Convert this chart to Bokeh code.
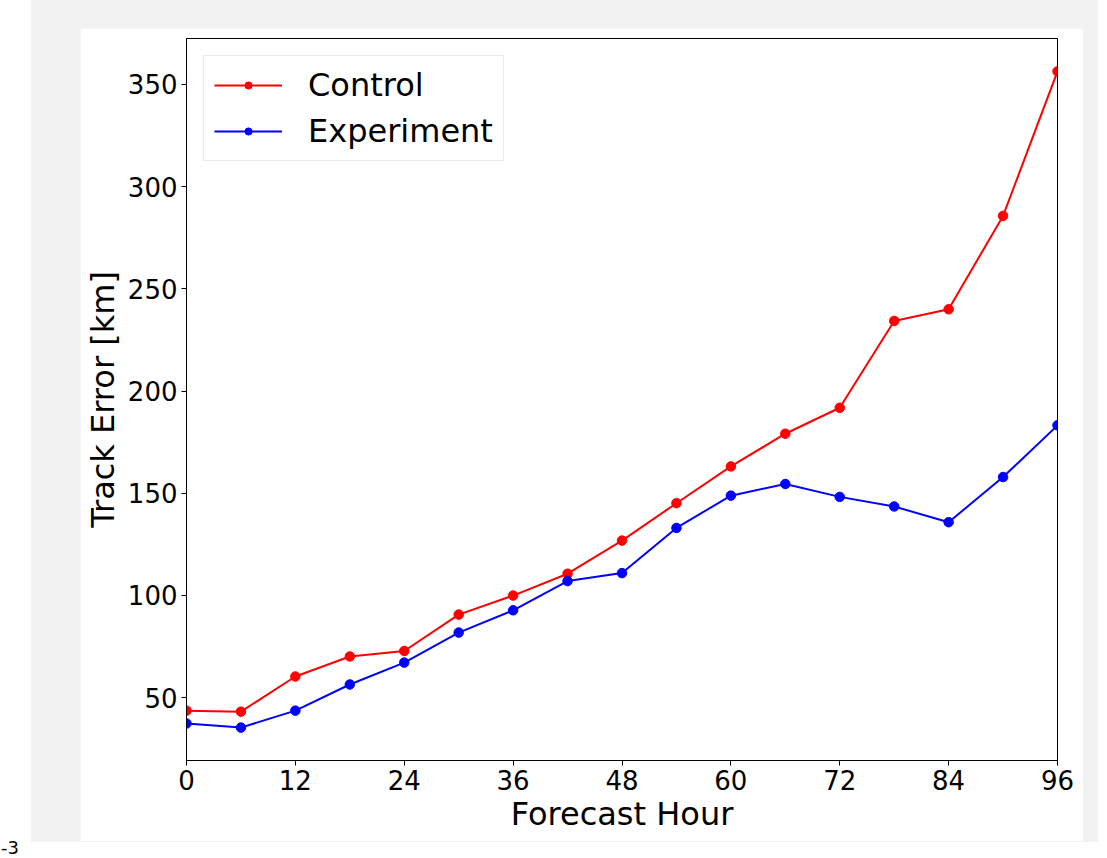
from bokeh.plotting import figure
from bokeh.models import Range1d, FixedTicker, Legend, LegendItem, Div
from bokeh.layouts import row, column
from bokeh.embed import file_html
from bokeh.resources import INLINE

hours = [0, 6, 12, 18, 24, 30, 36, 42, 48, 54, 60, 66, 72, 78, 84, 90, 96]
control = [43.6, 43.1, 60.3, 70.1, 72.8, 90.6, 99.9, 110.6, 126.8, 145.1, 163.1,
           179.1, 191.8, 234.3, 240.0, 285.7, 356.4]
experiment = [37.3, 35.3, 43.6, 56.4, 67.1, 81.8, 92.7, 107.0, 110.9, 133.0, 148.8,
              154.5, 148.2, 143.5, 135.8, 157.9, 183.2]
x_ticks = [0, 12, 24, 36, 48, 60, 72, 84, 96]
y_ticks = [50, 100, 150, 200, 250, 300, 350]

FONT = "DejaVu Sans"

p = figure(width=1003, height=813,
           x_range=Range1d(0, 96), y_range=Range1d(19.2, 372.5),
           output_backend="svg", toolbar_location=None,
           min_border_left=105, min_border_right=26,
           min_border_top=10, min_border_bottom=81)
p.margin = (28, 15, 1, 49)
p.background_fill_color = "white"
p.border_fill_color = "white"
p.outline_line_color = "black"
p.outline_line_width = 1
p.xgrid.visible = False
p.ygrid.visible = False

for ax in (p.xaxis[0], p.yaxis[0]):
    ax.axis_line_color = "black"
    ax.major_tick_line_color = "black"
    ax.major_tick_out = 5
    ax.major_tick_in = 0
    ax.minor_tick_line_color = None
    ax.major_label_text_font = FONT
    ax.major_label_text_font_size = "26px"
    ax.major_label_text_color = "black"
    ax.axis_label_text_font = FONT
    ax.axis_label_text_font_size = "32px"
    ax.axis_label_text_font_style = "normal"
    ax.axis_label_text_color = "black"
    ax.major_label_standoff = 4

p.xaxis.ticker = FixedTicker(ticks=x_ticks)
p.yaxis.ticker = FixedTicker(ticks=y_ticks)
p.xaxis.axis_label = "Forecast Hour"
p.yaxis.axis_label = "Track Error [km]"
p.xaxis.axis_label_standoff = 2
p.yaxis.axis_label_standoff = 3

l1 = p.line(hours, control, line_color="red", line_width=2)
c1 = p.scatter(hours, control, size=9.5, fill_color="red", line_color="red")
l2 = p.line(hours, experiment, line_color="blue", line_width=2)
c2 = p.scatter(hours, experiment, size=9.5, fill_color="blue", line_color="blue")

legend = Legend(items=[LegendItem(label="Control", renderers=[l1, c1]),
                       LegendItem(label="Experiment", renderers=[l2, c2])],
                location="top_left")
legend.margin = 17
legend.padding = 10
legend.spacing = 8
legend.glyph_width = 68
legend.glyph_height = 18
legend.label_height = 38
legend.label_standoff = 26
legend.label_text_font = FONT
legend.label_text_font_size = "32px"
legend.label_text_color = "black"
legend.border_line_color = "#d5d5d5"
legend.border_line_width = 1
legend.background_fill_alpha = 0.8
p.add_layout(legend)

div = Div(text="<div style='position:absolute;top:830px;left:-4px;font-size:18px;"
               "font-family:DejaVu Sans;color:black;white-space:nowrap'>-3</div>",
          width=21, height=842)
gray = column(p, styles={"background-color": "#f2f2f2"})
layout = row(div, gray)

open("out.html", "w").write(file_html(layout, INLINE))
